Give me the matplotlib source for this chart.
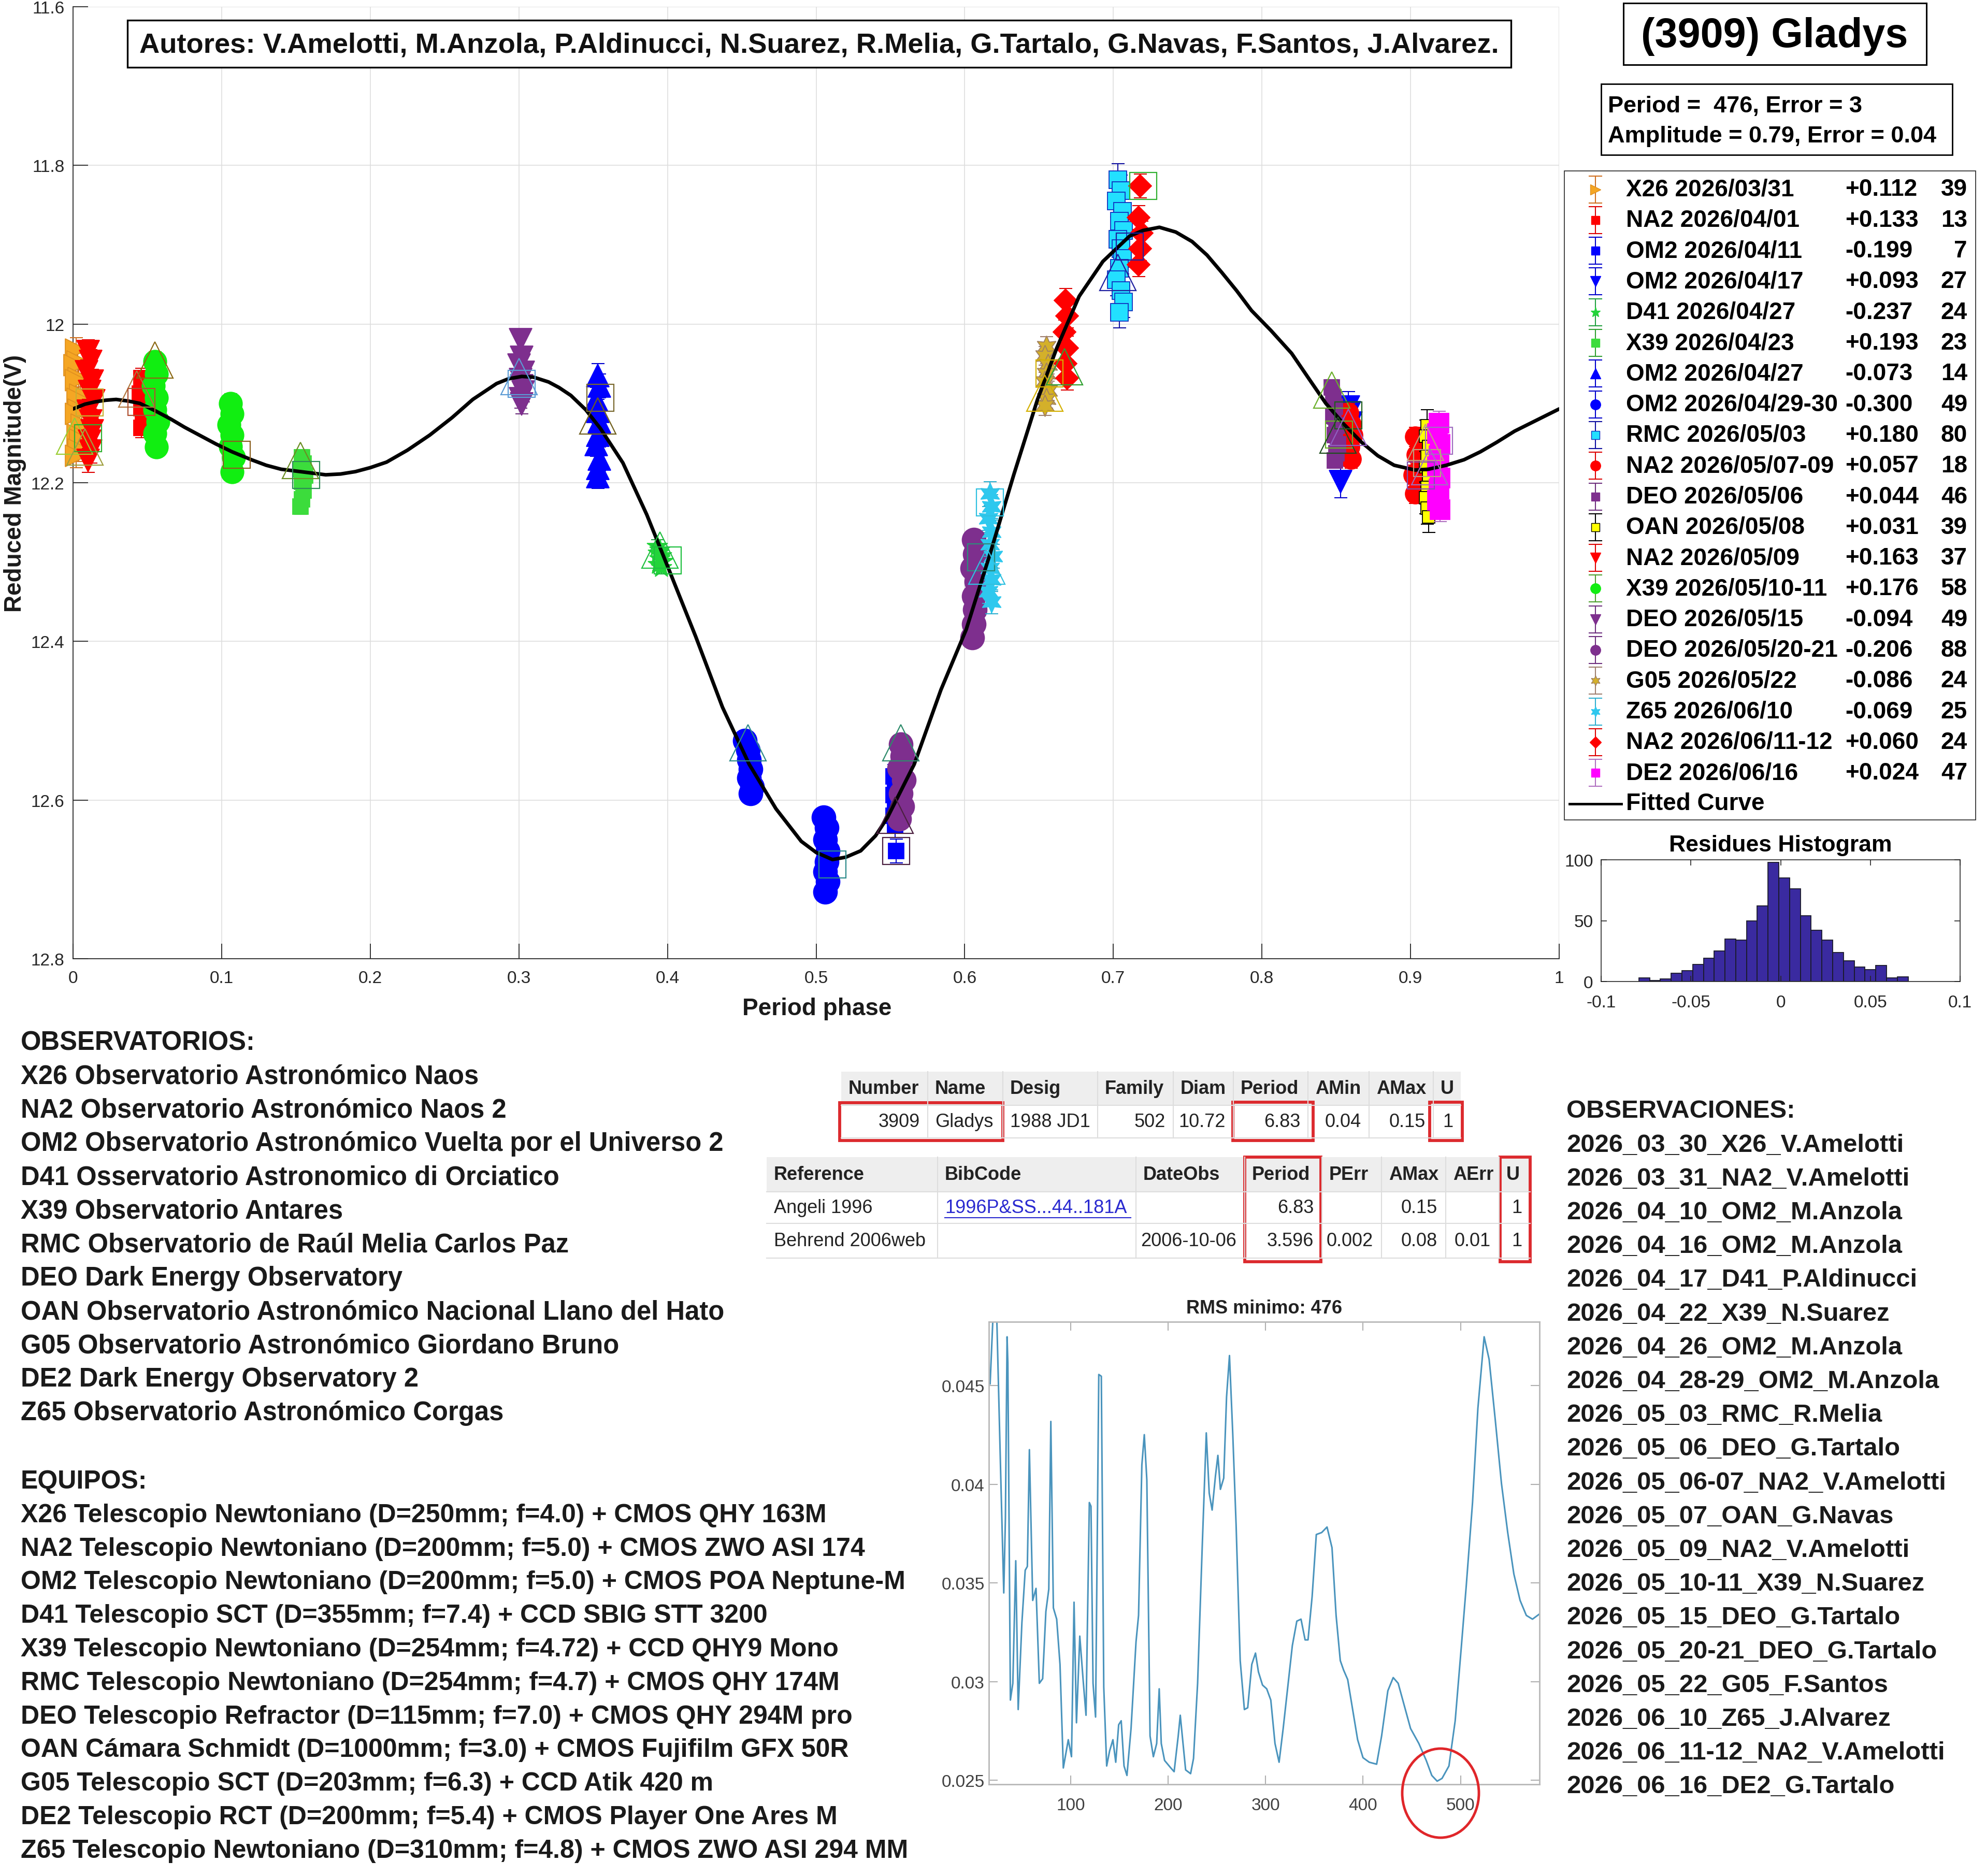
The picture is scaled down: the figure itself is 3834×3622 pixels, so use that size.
import numpy as np
import matplotlib
matplotlib.use('Agg')
import matplotlib.pyplot as plt
from matplotlib.patches import Rectangle, Ellipse

plt.rcParams['font.family'] = ['Liberation Sans', 'DejaVu Sans']

W, H = 3834, 3623

# ------------------------------------------------------------------ data
series_labels = ["X26 2026/03/31", "NA2 2026/04/01", "OM2 2026/04/11", "OM2 2026/04/17",
                 "D41 2026/04/27", "X39 2026/04/23", "OM2 2026/04/27", "OM2 2026/04/29-30",
                 "RMC 2026/05/03", "NA2 2026/05/07-09", "DEO 2026/05/06", "OAN 2026/05/08",
                 "NA2 2026/05/09", "X39 2026/05/10-11", "DEO 2026/05/15", "DEO 2026/05/20-21",
                 "G05 2026/05/22", "Z65 2026/06/10", "NA2 2026/06/11-12", "DE2 2026/06/16"]
series_offsets = ["+0.112", "+0.133", "-0.199", "+0.093", "-0.237", "+0.193", "-0.073", "-0.300",
                  "+0.180", "+0.057", "+0.044", "+0.031", "+0.163", "+0.176", "-0.094", "-0.206",
                  "-0.086", "-0.069", "+0.060", "+0.024"]
series_counts = [39, 13, 7, 27, 24, 23, 14, 49, 80, 18, 46, 39, 37, 58, 49, 88, 24, 25, 24, 47]

series_phase = [
    [0.002, 0.003, 0.001, 0.004, 0.002, 0.005, 0.003, 0.004, 0.002, 0.006, 0.003, 0.005, 0.004, 0.002],
    [0.046, 0.047, 0.045, 0.048, 0.046, 0.047, 0.049, 0.046],
    [0.552, 0.553, 0.552, 0.553, 0.552, 0.553, 0.554],
    [0.858, 0.859, 0.857, 0.860, 0.858, 0.859, 0.853],
    [0.393, 0.395, 0.394, 0.396, 0.395, 0.397, 0.394, 0.396],
    [0.154, 0.155, 0.153, 0.156, 0.154, 0.155, 0.154, 0.153],
    [0.353, 0.354, 0.352, 0.353, 0.354, 0.353, 0.352, 0.354, 0.353, 0.353],
    [0.452, 0.454, 0.455, 0.456, 0.455, 0.457, 0.456, 0.505, 0.507, 0.506, 0.508, 0.507, 0.506, 0.508, 0.506],
    [0.703, 0.705, 0.702, 0.706, 0.704, 0.707, 0.703, 0.705, 0.706, 0.704, 0.702, 0.705, 0.707, 0.704],
    [0.858, 0.860, 0.861, 0.859, 0.860, 0.903, 0.904, 0.902, 0.903],
    [0.847, 0.848, 0.849, 0.848, 0.850, 0.849, 0.851, 0.850, 0.849],
    [0.911, 0.910, 0.912, 0.911, 0.910, 0.912, 0.911, 0.910, 0.911, 0.912],
    [0.010, 0.012, 0.009, 0.013, 0.011, 0.014, 0.010, 0.012, 0.013, 0.011, 0.012, 0.010],
    [0.055, 0.056, 0.054, 0.056, 0.055, 0.057, 0.055, 0.056, 0.106, 0.107, 0.105, 0.107, 0.106, 0.108, 0.107],
    [0.301, 0.302, 0.300, 0.303, 0.301, 0.302, 0.303, 0.301, 0.302],
    [0.557, 0.558, 0.556, 0.559, 0.557, 0.558, 0.556, 0.606, 0.607, 0.605, 0.608, 0.606, 0.607, 0.606, 0.605],
    [0.655, 0.654, 0.656, 0.655, 0.654, 0.656, 0.655, 0.654],
    [0.617, 0.618, 0.616, 0.618, 0.617, 0.619, 0.617, 0.618, 0.616, 0.618],
    [0.668, 0.669, 0.667, 0.669, 0.668, 0.669, 0.718, 0.717, 0.719, 0.718, 0.717],
    [0.919, 0.918, 0.920, 0.919, 0.918, 0.920, 0.919, 0.918, 0.920],
]
series_mag = [
    [12.032, 12.047, 12.052, 12.068, 12.071, 12.089, 12.094, 12.108, 12.113, 12.127, 12.139, 12.146, 12.158, 12.166],
    [12.068, 12.079, 12.088, 12.097, 12.106, 12.114, 12.122, 12.131],
    [12.570, 12.582, 12.594, 12.606, 12.620, 12.632, 12.664],
    [12.105, 12.112, 12.118, 12.125, 12.132, 12.140, 12.199],
    [12.280, 12.285, 12.289, 12.292, 12.296, 12.299, 12.303, 12.307],
    [12.168, 12.176, 12.183, 12.191, 12.199, 12.210, 12.221, 12.230],
    [12.065, 12.078, 12.095, 12.110, 12.123, 12.140, 12.152, 12.170, 12.182, 12.192],
    [12.525, 12.537, 12.549, 12.561, 12.572, 12.583, 12.592, 12.622, 12.635, 12.650, 12.664, 12.678, 12.690, 12.703, 12.716],
    [11.818, 11.832, 11.845, 11.858, 11.870, 11.882, 11.893, 11.905, 11.917, 11.930, 11.944, 11.958, 11.972, 11.985],
    [12.112, 12.126, 12.140, 12.155, 12.170, 12.142, 12.165, 12.190, 12.214],
    [12.080, 12.092, 12.104, 12.116, 12.128, 12.140, 12.152, 12.163, 12.172],
    [12.128, 12.141, 12.154, 12.167, 12.180, 12.193, 12.206, 12.219, 12.232, 12.243],
    [12.035, 12.047, 12.060, 12.072, 12.085, 12.097, 12.110, 12.122, 12.135, 12.148, 12.160, 12.172],
    [12.047, 12.063, 12.078, 12.093, 12.108, 12.123, 12.138, 12.155, 12.100, 12.113, 12.127, 12.140, 12.154, 12.168, 12.186],
    [12.020, 12.042, 12.052, 12.061, 12.070, 12.078, 12.086, 12.094, 12.101],
    [12.530, 12.545, 12.560, 12.575, 12.592, 12.608, 12.624, 12.272, 12.290, 12.308, 12.325, 12.343, 12.360, 12.378, 12.395],
    [12.028, 12.040, 12.051, 12.062, 12.073, 12.084, 12.094, 12.103],
    [12.214, 12.230, 12.245, 12.262, 12.278, 12.293, 12.308, 12.322, 12.337, 12.350],
    [11.970, 11.990, 12.010, 12.030, 12.050, 12.068, 11.826, 11.866, 11.885, 11.905, 11.925],
    [12.125, 12.138, 12.152, 12.166, 12.180, 12.194, 12.208, 12.222, 12.234],
]
series_err = [0.015, 0.012, 0.015, 0.020, 0.008, 0.010, 0.015, 0.012, 0.020, 0.012,
              0.010, 0.020, 0.015, 0.012, 0.012, 0.010, 0.012, 0.015, 0.015, 0.015]

# big hollow session markers
ring_phase = [0.001, 0.011, 0.010, 0.008, 0.043, 0.046, 0.055, 0.110, 0.153, 0.157,
              0.300, 0.302, 0.355, 0.353, 0.395, 0.400, 0.454, 0.511, 0.557, 0.553,
              0.554, 0.611, 0.615, 0.617, 0.657, 0.654, 0.667, 0.720, 0.711, 0.703,
              0.847, 0.858, 0.852, 0.851, 0.858, 0.910, 0.919, 0.907, 0.911, 0.913]
ring_mag = [12.141, 12.099, 12.144, 12.155, 12.082, 12.098, 12.045, 12.165, 12.172, 12.190,
            12.066, 12.075, 12.093, 12.116, 12.285, 12.298, 12.528, 12.681, 12.528, 12.619,
            12.664, 12.294, 12.305, 12.225, 12.062, 12.087, 12.054, 11.826, 11.902, 11.935,
            12.083, 12.115, 12.139, 12.140, 12.130, 12.149, 12.147, 12.191, 12.175, 12.180]
ring_kind = ['^', 's', 's', '^', '^', 's', '^', 's', '^', 's',
             '^', 's', 's', '^', '^', 's', '^', 's', '^', '^',
             's', 's', '^', 's', 's', '^', '^', 's', 's', '^',
             '^', 's', 's', '^', '^', '^', 's', 's', 's', '^']
ring_color = ['#9ACD32', '#C8B030', '#30B030', '#A0A040', '#B07840', '#B05030', '#8B6914', '#8B6020', '#6B8E23', '#2E8B57',
              '#5B9BD5', '#5B9BD5', '#7A6A30', '#706020', '#20C040', '#20C040', '#2E8B8B', '#2E8B8B', '#2E8B6B', '#4B2040',
              '#4B2040', '#2E8B7B', '#30C0E0', '#30C0E0', '#D4B000', '#D4B000', '#30A030', '#30B030', '#2020A0', '#2020A0',
              '#6AAF2A', '#1E5E1E', '#6AAF2A', '#1E4E1E', '#9060C0', '#C0A080', '#A070C0', '#8050B0', '#C0A080', '#A070C0']

curve_phase = [0.000, 0.008, 0.015, 0.022, 0.029, 0.037, 0.045, 0.055, 0.066, 0.075, 0.085, 0.096,
               0.107, 0.120, 0.130, 0.140, 0.153, 0.170, 0.180, 0.190, 0.200, 0.211, 0.225, 0.240,
               0.255, 0.269, 0.285, 0.293, 0.302, 0.310, 0.320, 0.327, 0.335, 0.345, 0.355, 0.370,
               0.386, 0.400, 0.419, 0.437, 0.455, 0.473, 0.490, 0.500, 0.511, 0.520, 0.530, 0.540,
               0.548, 0.566, 0.584, 0.601, 0.617, 0.633, 0.649, 0.662, 0.677, 0.693, 0.711, 0.720,
               0.731, 0.742, 0.753, 0.763, 0.773, 0.783, 0.793, 0.806, 0.820, 0.832, 0.843, 0.855,
               0.867, 0.878, 0.889, 0.903, 0.912, 0.924, 0.936, 0.947, 0.958, 0.970, 0.985, 1.000]
curve_mag = [12.107, 12.101, 12.098, 12.096, 12.095, 12.097, 12.100, 12.109, 12.120, 12.130, 12.140, 12.151,
             12.161, 12.171, 12.178, 12.183, 12.186, 12.190, 12.189, 12.186, 12.181, 12.174, 12.159, 12.140,
             12.118, 12.095, 12.075, 12.069, 12.066, 12.067, 12.073, 12.080, 12.090, 12.108, 12.132, 12.175,
             12.240, 12.305, 12.394, 12.483, 12.555, 12.611, 12.652, 12.666, 12.675, 12.672, 12.664, 12.645,
             12.622, 12.555, 12.461, 12.385, 12.290, 12.190, 12.095, 12.030, 11.965, 11.921, 11.889, 11.882,
             11.878, 11.884, 11.896, 11.913, 11.935, 11.958, 11.983, 12.008, 12.037, 12.070, 12.100, 12.126,
             12.149, 12.166, 12.178, 12.184, 12.183, 12.178, 12.171, 12.161, 12.149, 12.135, 12.121, 12.107]

hist_left = [-0.079, -0.073, -0.067, -0.061, -0.055, -0.049, -0.043, -0.037, -0.031, -0.025, -0.019, -0.013,
             -0.007, -0.001, 0.005, 0.011, 0.017, 0.023, 0.029, 0.035, 0.041, 0.047, 0.053, 0.059, 0.065]
hist_count = [3, 1, 2, 7, 9, 14, 19, 25, 35, 34, 50, 62, 98, 85, 76, 54, 42, 34, 24, 17, 12, 10, 13, 3, 4]
hist_binwidth = 0.006

rms_period = [17.3, 21.1, 23.6, 27.9, 31.3, 33.0, 34.7, 35.5, 38.1, 40.6, 43.6, 46.1, 49.9, 53.3, 55.5,
              57.6, 61.0, 64.4, 67.8, 71.2, 74.5, 77.5, 79.6, 82.2, 85.6, 89.0, 92.4, 97.5, 100.8, 103.4,
              105.9, 109.3, 112.7, 115.7, 119.1, 120.8, 122.9, 125.5, 128.8, 131.4, 133.9, 136.9, 139.9,
              143.3, 146.2, 149.2, 151.8, 154.7, 157.7, 161.9, 167.0, 169.6, 173.0, 175.5, 178.1, 181.4,
              184.8, 188.2, 190.8, 192.9, 196.3, 202.7, 206.1, 210.3, 212.4, 214.5, 217.9, 223.0, 226.0,
              230.2, 234.9, 239.1, 242.1, 245.1, 248.5, 251.0, 253.6, 257.0, 259.9, 262.9, 266.3, 269.7,
              273.9, 278.2, 281.6, 285.8, 289.6, 292.6, 296.8, 301.1, 305.3, 309.6, 313.8, 318.0, 322.3,
              327.4, 332.0, 336.3, 340.5, 343.5, 347.7, 352.0, 357.5, 363.0, 368.1, 372.3, 376.6, 380.0,
              384.2, 389.3, 394.4, 399.9, 406.3, 413.9, 419.0, 425.4, 430.9, 436.0, 442.3, 448.7, 457.2,
              464.8, 470.5, 476.0, 481.0, 488.1, 494.5, 500.9, 505.9, 512.3, 517.8, 524.2, 529.3, 535.6,
              542.0, 548.4, 554.7, 561.1, 567.5, 573.8, 581.5]
rms_value = [0.04510, 0.04950, 0.04950, 0.04099, 0.03450, 0.03832, 0.04748, 0.04615, 0.02907, 0.02992,
             0.03613, 0.02859, 0.03298, 0.03565, 0.03584, 0.04176, 0.03412, 0.03473, 0.02992, 0.03015,
             0.03355, 0.03469, 0.04319, 0.03374, 0.03317, 0.03088, 0.02563, 0.02706, 0.02620, 0.03403,
             0.02792, 0.03231, 0.03011, 0.02830, 0.03908, 0.03889, 0.02992, 0.02821, 0.04557, 0.04548,
             0.02973, 0.02573, 0.02649, 0.02706, 0.02592, 0.02782, 0.02802, 0.02573, 0.02525, 0.02763,
             0.03202, 0.03336, 0.04099, 0.04252, 0.04023, 0.02725, 0.02620, 0.02687, 0.02964, 0.02687,
             0.02601, 0.02563, 0.02544, 0.02725, 0.02830, 0.02725, 0.02553, 0.02534, 0.02611, 0.02992,
             0.03679, 0.04261, 0.03956, 0.03870, 0.04042, 0.04147, 0.03975, 0.04032, 0.04443, 0.04653,
             0.04252, 0.03794, 0.03107, 0.02859, 0.02868, 0.03088, 0.03145, 0.03050, 0.02983, 0.02964,
             0.02907, 0.02687, 0.02592, 0.02763, 0.02954, 0.03183, 0.03307, 0.03317, 0.03212, 0.03212,
             0.03431, 0.03746, 0.03756, 0.03784, 0.03679, 0.03336, 0.03107, 0.03059, 0.03011, 0.02859,
             0.02706, 0.02615, 0.02592, 0.02582, 0.02725, 0.02954, 0.03021, 0.02992, 0.02878, 0.02763,
             0.02687, 0.02601, 0.02525, 0.02496, 0.02510, 0.02573, 0.02802, 0.03183, 0.03489, 0.03908,
             0.04386, 0.04748, 0.04634, 0.04328, 0.04004, 0.03756, 0.03546, 0.03412, 0.03336, 0.03317,
             0.03345]

x_ticklabels = ['0', '0.1', '0.2', '0.3', '0.4', '0.5', '0.6', '0.7', '0.8', '0.9', '1']
y_ticklabels = ['11.6', '11.8', '12', '12.2', '12.4', '12.6', '12.8']

title_text = "(3909) Gladys"
period_lines = ["Period =  476, Error = 3", "Amplitude = 0.79, Error = 0.04"]
autores_text = ("Autores: V.Amelotti, M.Anzola, P.Aldinucci, N.Suarez, R.Melia, "
                "G.Tartalo, G.Navas, F.Santos, J.Alvarez.")

table1_header = ["Number", "Name", "Desig", "Family", "Diam", "Period", "AMin", "AMax", "U"]
table1_row = ["3909", "Gladys", "1988 JD1", "502", "10.72", "6.83", "0.04", "0.15", "1"]
table2_header = ["Reference", "BibCode", "DateObs", "Period", "PErr", "AMax", "AErr", "U"]
table2_rows = [["Angeli 1996", "1996P&SS...44..181A", "", "6.83", "", "0.15", "", "1"],
               ["Behrend 2006web", "", "2006-10-06", "3.596", "0.002", "0.08", "0.01", "1"]]

observatorios = ["OBSERVATORIOS:",
                 "X26 Observatorio Astronómico Naos",
                 "NA2 Observatorio Astronómico Naos 2",
                 "OM2 Observatorio Astronómico Vuelta por el Universo 2",
                 "D41 Osservatorio Astronomico di Orciatico",
                 "X39 Observatorio Antares",
                 "RMC Observatorio de Raúl Melia Carlos Paz",
                 "DEO Dark Energy Observatory",
                 "OAN Observatorio Astronómico Nacional Llano del Hato",
                 "G05 Observatorio Astronómico Giordano Bruno",
                 "DE2 Dark Energy Observatory 2",
                 "Z65 Observatorio Astronómico Corgas"]
equipos = ["EQUIPOS:",
           "X26 Telescopio Newtoniano (D=250mm; f=4.0) + CMOS QHY 163M",
           "NA2 Telescopio Newtoniano (D=200mm; f=5.0) + CMOS ZWO ASI 174",
           "OM2 Telescopio Newtoniano (D=200mm; f=5.0) + CMOS POA Neptune-M",
           "D41 Telescopio SCT (D=355mm; f=7.4) + CCD SBIG STT 3200",
           "X39 Telescopio Newtoniano (D=254mm; f=4.72) + CCD QHY9 Mono",
           "RMC Telescopio Newtoniano (D=254mm; f=4.7) + CMOS QHY 174M",
           "DEO Telescopio Refractor (D=115mm; f=7.0) + CMOS QHY 294M pro",
           "OAN Cámara Schmidt (D=1000mm; f=3.0) + CMOS Fujifilm GFX 50R",
           "G05 Telescopio SCT (D=203mm; f=6.3) + CCD Atik 420 m",
           "DE2 Telescopio RCT (D=200mm; f=5.4) + CMOS Player One Ares M",
           "Z65 Telescopio Newtoniano (D=310mm; f=4.8) + CMOS ZWO ASI 294 MM"]
observaciones = ["OBSERVACIONES:",
                 "2026_03_30_X26_V.Amelotti", "2026_03_31_NA2_V.Amelotti",
                 "2026_04_10_OM2_M.Anzola", "2026_04_16_OM2_M.Anzola",
                 "2026_04_17_D41_P.Aldinucci", "2026_04_22_X39_N.Suarez",
                 "2026_04_26_OM2_M.Anzola", "2026_04_28-29_OM2_M.Anzola",
                 "2026_05_03_RMC_R.Melia", "2026_05_06_DEO_G.Tartalo",
                 "2026_05_06-07_NA2_V.Amelotti", "2026_05_07_OAN_G.Navas",
                 "2026_05_09_NA2_V.Amelotti", "2026_05_10-11_X39_N.Suarez",
                 "2026_05_15_DEO_G.Tartalo", "2026_05_20-21_DEO_G.Tartalo",
                 "2026_05_22_G05_F.Santos", "2026_06_10_Z65_J.Alvarez",
                 "2026_06_11-12_NA2_V.Amelotti", "2026_06_16_DE2_G.Tartalo"]

# ------------------------------------------------------------------ styles
HEX = (6, 1, 0)
series_style = [
    ('>', 30, '#F5A623', '#E09020', '#D07020'),
    ('s', 21, '#FF0000', '#FF0000', '#DD0000'),
    ('s', 22, '#0000FF', '#0000FF', '#0000CC'),
    ('v', 32, '#0000FF', '#0000FF', '#0000CC'),
    ('*', 30, '#22D43A', '#22D43A', '#22A040'),
    ('s', 22, '#3CDC3C', '#3CDC3C', '#30A030'),
    ('^', 32, '#0000FF', '#0000FF', '#0000CC'),
    ('o', 33, '#0000FF', '#0000FF', '#0000CC'),
    ('s', 24, '#22E0FF', '#1030C0', '#1010A0'),
    ('o', 28, '#FF0000', '#FF0000', '#DD0000'),
    ('s', 22, '#7E2F8E', '#7E2F8E', '#6E2F7E'),
    ('s', 17, '#FFFF00', '#000000', '#000000'),
    ('v', 32, '#FF0000', '#FF0000', '#DD0000'),
    ('o', 32, '#11EE11', '#11EE11', '#50A030'),
    ('v', 32, '#7E2F8E', '#7E2F8E', '#6E2F7E'),
    ('o', 33, '#7E2F8E', '#7E2F8E', '#6E2F7E'),
    (HEX, 30, '#D4B02A', '#A08060', '#A08070'),
    (HEX, 30, '#2EC8EE', '#2EC8EE', '#30B0D0'),
    ('D', 22, '#FF0000', '#FF0000', '#DD0000'),
    ('s', 27, '#FF00FF', '#FF00FF', '#B070C0'),
]


def fx(px):
    return px / W


def fy(py):
    return 1 - py / H


fig = plt.figure(figsize=(W / 100, H / 100), dpi=100)
fig.patch.set_facecolor('white')

# ------------------------------------------------------------------ main axes
L, R, T, B = 141, 3010, 14, 1852
ax = fig.add_axes([fx(L), fy(B), fx(R - L), (B - T) / H])
ax.set_xlim(0, 1)
ax.set_ylim(12.8, 11.6)
ax.set_xticks(np.linspace(0, 1, 11))
ax.set_xticklabels(x_ticklabels)
ax.set_yticks(np.linspace(11.6, 12.8, 7))
ax.set_yticklabels(y_ticklabels)
ax.grid(True, color='#dedede', linewidth=1.2, zorder=0)
ax.set_axisbelow(True)
for s in ('top', 'right'):
    ax.spines[s].set_visible(False)
for s in ('left', 'bottom'):
    ax.spines[s].set_color('#262626')
    ax.spines[s].set_linewidth(1.3)
ax.tick_params(axis='both', direction='in', length=21, width=1.3, colors='#262626', labelsize=24)
ax.tick_params(axis='x', pad=16)
ax.tick_params(axis='y', pad=12)

for i in range(len(series_labels)):
    mk, ms, fc, ec, erc = series_style[i]
    eb = ax.errorbar(series_phase[i], series_mag[i], yerr=series_err[i], fmt='none',
                     ecolor=erc, elinewidth=1.5, capsize=9, capthick=1.5, zorder=3 + i * 0.01)
    for a in eb.lines[1] + eb.lines[2]:
        a.set_clip_on(False)
    ln, = ax.plot(series_phase[i], series_mag[i], ls='none', marker=mk, ms=ms, mfc=fc, mec=ec,
                  mew=1.3, zorder=3.005 + i * 0.01)
    ln.set_clip_on(False)

ax.plot(curve_phase, curve_mag, color='black', lw=5, zorder=5, solid_joinstyle='round',
        solid_capstyle='round')

for p, m, k, c in zip(ring_phase, ring_mag, ring_kind, ring_color):
    ax.plot([p], [m], ls='none', marker=k, ms=50 if k == '^' else 38, mfc='none', mec=c,
            mew=1.6, zorder=6, clip_on=False)

# ------------------------------------------------------------------ histogram
hL, hR, hT, hB = 3091, 3784, 1661, 1896
axh = fig.add_axes([fx(hL), fy(hB), fx(hR - hL), (hB - hT) / H])
axh.bar(hist_left, hist_count, width=hist_binwidth, align='edge', color='#3a2aa0',
        edgecolor='#1a1a2a', linewidth=1.3)
axh.set_xlim(-0.1, 0.1)
axh.set_ylim(0, 100)
axh.set_xticks([-0.1, -0.05, 0, 0.05, 0.1])
axh.set_xticklabels(['-0.1', '-0.05', '0', '0.05', '0.1'])
axh.set_yticks([0, 50, 100])
axh.set_yticklabels(['0', '50', '100'])
axh.tick_params(direction='in', length=8, width=1.2, top=True, right=True, labelsize=24,
                colors='#262626')
axh.tick_params(axis='x', pad=18)
axh.tick_params(axis='y', pad=11)
for s in axh.spines.values():
    s.set_color('#262626')
    s.set_linewidth(1.2)

# ------------------------------------------------------------------ RMS plot
rL, rR, rT, rB = 1909, 2972, 2553, 3446
axr = fig.add_axes([fx(rL), fy(rB), fx(rR - rL), (rB - rT) / H])
axr.plot(rms_period, rms_value, color='#4a94bd', lw=2.2)
axr.set_xlim(16, 581)
axr.set_ylim(0.0248, 0.04824)
axr.set_xticks([100, 200, 300, 400, 500])
axr.set_xticklabels(['100', '200', '300', '400', '500'])
axr.set_yticks([0.025, 0.03, 0.035, 0.04, 0.045])
axr.set_yticklabels(['0.025', '0.03', '0.035', '0.04', '0.045'])
axr.tick_params(direction='in', length=12, width=1.5, top=True, right=True, labelsize=24,
                color='#b0b0b0', labelcolor='#404040')
axr.tick_params(axis='x', pad=18)
axr.tick_params(axis='y', pad=6)
for s in axr.spines.values():
    s.set_color('#b8b8b8')
    s.set_linewidth(2)

# ------------------------------------------------------------------ overlay (pixel coordinates)
ov = fig.add_axes([0, 0, 1, 1], zorder=10)
ov.set_xlim(0, W)
ov.set_ylim(H, 0)
ov.axis('off')
ov.patch.set_visible(False)

# axis labels
ov.text(29, 933, 'Reduced Magnitude(V)', rotation=90, ha='center', va='center',
        fontsize=33, fontweight='bold', color='#1a1a1a')
ov.text(1577, 1948, 'Period phase', ha='center', va='center', fontsize=33,
        fontweight='bold', color='#1a1a1a')

# authors box
ov.add_patch(Rectangle((246, 40), 2917 - 246, 131 - 40, fc='white', ec='black', lw=2.4))
ov.text(1581, 87, autores_text, ha='center', va='center', fontsize=39.2, fontweight='bold',
        color='#111111')

# title box
ov.add_patch(Rectangle((3134, 7), 585, 119, fc='white', ec='black', lw=2.2))
ov.text(3426, 70, title_text, ha='center', va='center', fontsize=57, fontweight='bold')

# period box
ov.add_patch(Rectangle((3091, 163), 678, 137, fc='white', ec='black', lw=2.0))
ov.text(3104, 205, period_lines[0], ha='left', va='center', fontsize=32.5, fontweight='bold')
ov.text(3104, 264, period_lines[1], ha='left', va='center', fontsize=32.5, fontweight='bold')

# legend
ov.add_patch(Rectangle((3020, 331), 794, 1253, fc='white', ec='#262626', lw=1.2))
for i in range(len(series_labels)):
    mk, ms, fc, ec, erc = series_style[i]
    yy = 366.5 + i * 59.3
    ov.plot([3080, 3080], [yy - 26, yy + 26], color=erc, lw=1.5)
    ov.plot([3068, 3092], [yy - 26, yy - 26], color=erc, lw=1.5)
    ov.plot([3068, 3092], [yy + 26, yy + 26], color=erc, lw=1.5)
    ov.plot([3080], [yy], ls='none', marker=mk, ms=14 if mk not in ('s', 'D') else 11,
            mfc=fc, mec=ec, mew=1.0)
    ov.text(3139, yy, series_labels[i], ha='left', va='center', fontsize=33, fontweight='bold')
    ov.text(3562, yy, series_offsets[i], ha='left', va='center', fontsize=33, fontweight='bold')
    ov.text(3798, yy, str(series_counts[i]), ha='right', va='center', fontsize=33,
            fontweight='bold')
yy = 366.5 + 20 * 59.3
ov.plot([3030, 3130], [yy, yy], color='black', lw=3.5)
ov.text(3139, yy, 'Fitted Curve', ha='left', va='center', fontsize=33, fontweight='bold')

# histogram title
ov.text(3437, 1633, 'Residues Histogram', ha='center', va='center', fontsize=32,
        fontweight='bold')

# RMS title + red ellipse
ov.text(2441, 2527, 'RMS minimo: 476', ha='center', va='center', fontsize=26,
        fontweight='bold', color='#222222')
ov.add_patch(Ellipse((2781, 3463), 148, 172, fill=False, ec='#e0262a', lw=3.5))

# text blocks
for k, line in enumerate(observatorios):
    ov.text(40, 2014 + k * 65.0, line, ha='left', va='center', fontsize=36.5,
            fontweight='bold', color='#1a1a1a')
for k, line in enumerate(equipos):
    ov.text(40, 2861 + k * 64.8, line, ha='left', va='center', fontsize=36,
            fontweight='bold', color='#1a1a1a')
for k, line in enumerate(observaciones):
    ov.text(3024, 2146 + k * 65.2, line, ha='left', va='center', fontsize=35.3,
            fontweight='bold', color='#1a1a1a')

# tables
RED = '#dc2a2e'
GRID = '#dddddd'


def draw_table(xe, ye, header, rows, align):
    ov.add_patch(Rectangle((xe[0], ye[0]), xe[-1] - xe[0], ye[1] - ye[0], fc='#eeeeee', ec='none'))
    for yv in ye[1:]:
        ov.plot([xe[0], xe[-1]], [yv, yv], color=GRID, lw=1.5)
    for xv in xe[1:-1]:
        ov.plot([xv, xv], [ye[0], ye[-1]], color=GRID, lw=1.5)
    for j, h in enumerate(header):
        ov.text(xe[j] + 14, (ye[0] + ye[1]) / 2, h, ha='left', va='center', fontsize=26,
                fontweight='bold', color='#222222')
    for r, row in enumerate(rows):
        yc = (ye[r + 1] + ye[r + 2]) / 2
        for j, v in enumerate(row):
            if not v:
                continue
            if align[j] == 'r':
                ov.text(xe[j + 1] - 15, yc, v, ha='right', va='center', fontsize=26, color='#222222')
            else:
                ov.text(xe[j] + 14, yc, v, ha='left', va='center', fontsize=26, color='#222222')


t1x = [1624, 1791, 1936, 2119, 2265, 2381, 2525, 2643, 2767, 2820]
t1y = [2070, 2135, 2198]
draw_table(t1x, t1y, table1_header, [table1_row], ['r', 'l', 'l', 'r', 'r', 'r', 'r', 'r', 'r'])

t2x = [1480, 1810, 2193, 2403, 2552, 2667, 2791, 2894, 2954]
t2y = [2235, 2302, 2363, 2430]
draw_table(t2x, t2y, table2_header, [], ['l'] * 8)
for r, row in enumerate(table2_rows):
    yc = (t2y[r + 1] + t2y[r + 2]) / 2
    for j, v in enumerate(row):
        if not v:
            continue
        if j == 0:
            ov.text(t2x[j] + 14, yc, v, ha='left', va='center', fontsize=26, color='#222222')
        elif j == 1:
            ov.text(t2x[j] + 14, yc, v, ha='left', va='center', fontsize=26, color='#2a2ad0')
            ov.plot([t2x[j] + 14, 2183], [yc + 19, yc + 19], color='#2a2ad0', lw=1.5)
        else:
            ov.text(t2x[j + 1] - 16, yc, v, ha='right', va='center', fontsize=26, color='#222222')

for (x0, y0, x1, y1) in [(1621, 2130, 1936, 2203), (2380, 2129, 2535, 2203), (2760, 2129, 2823, 2203),
                         (2403, 2235, 2550, 2437), (2896, 2235, 2954, 2437)]:
    ov.add_patch(Rectangle((x0, y0), x1 - x0, y1 - y0, fill=False, ec=RED, lw=4.2))

fig.savefig('out.png', dpi=100, facecolor='white')
